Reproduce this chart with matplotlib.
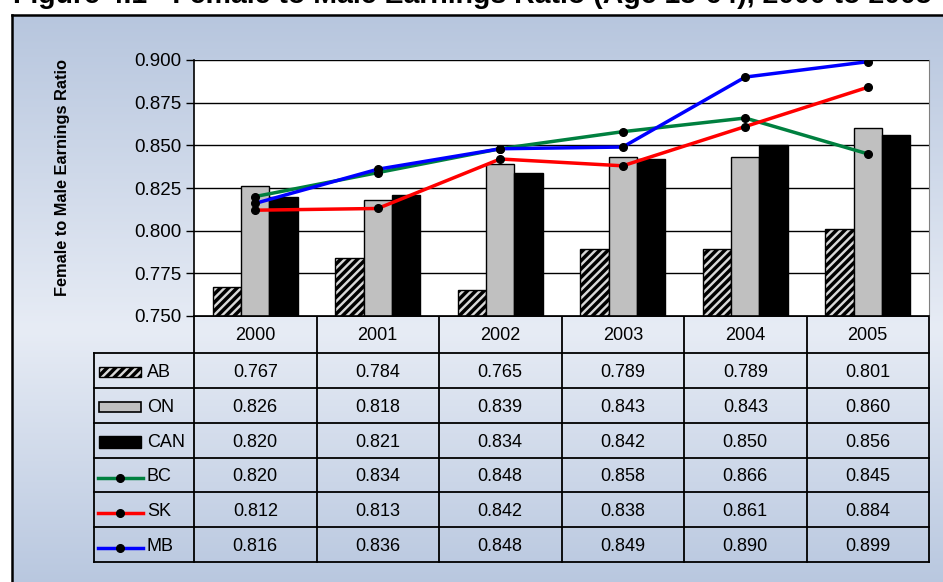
import numpy as np
import matplotlib.pyplot as plt
from matplotlib.patches import Rectangle
from matplotlib.lines import Line2D

plt.rcParams['font.family'] = ['Liberation Sans', 'DejaVu Sans']
plt.rcParams['hatch.linewidth'] = 2.5

years = ['2000', '2001', '2002', '2003', '2004', '2005']
ab = [0.767, 0.784, 0.765, 0.789, 0.789, 0.801]
on = [0.826, 0.818, 0.839, 0.843, 0.843, 0.860]
can = [0.820, 0.821, 0.834, 0.842, 0.850, 0.856]
bc = [0.820, 0.834, 0.848, 0.858, 0.866, 0.845]
sk = [0.812, 0.813, 0.842, 0.838, 0.861, 0.884]
mb = [0.816, 0.836, 0.848, 0.849, 0.890, 0.899]
yticks = [0.750, 0.775, 0.800, 0.825, 0.850, 0.875, 0.900]

W, H = 943, 582
fig = plt.figure(figsize=(W / 100, H / 100), dpi=100)

# overlay axes in pixel coordinates (background, frame, table)
ov = fig.add_axes([0, 0, 1, 1])
ov.set_xlim(0, W)
ov.set_ylim(H, 0)
ov.axis('off')

# vertical gradient: blue at top and bottom, pale in the middle
ys = np.linspace(0, 1, 300)
top = np.array([183, 198, 222]) / 255
mid = np.array([231, 236, 245]) / 255
bot = np.array([184, 199, 223]) / 255
t = np.clip(ys / 0.55, 0, 1)[:, None]
u = np.clip((ys - 0.55) / 0.45, 0, 1)[:, None]
grad = np.where(ys[:, None] < 0.55, top + (mid - top) * t, mid + (bot - mid) * u)
ov.imshow(grad[:, None, :], extent=(12, W + 5, H + 5, 15), aspect='auto', zorder=0)
ov.plot([12, 12], [15, H + 5], color='black', lw=1.8, zorder=1)
ov.plot([12, W + 5], [15, 15], color='black', lw=1.8, zorder=1)

# title, mostly cut off by the top edge as in the source
fig.text(13 / W, 1 - 3 / H, 'Figure 4.1 - Female to Male Earnings Ratio (Age 15-64), 2000 to 2005',
         fontsize=20.5, fontweight='bold', va='baseline', ha='left')

# main chart axes
x0, x1, y0, y1 = 194, 929, 60, 316
ax = fig.add_axes([x0 / W, 1 - y1 / H, (x1 - x0) / W, (y1 - y0) / H])
ax.set_facecolor('white')
x = np.arange(len(years))
bw = 0.23
ax.bar(x - bw, ab, bw, color='#d8d8d8', edgecolor='black', hatch='////', lw=1, zorder=2)
ax.bar(x, on, bw, color='#c0c0c0', edgecolor='black', lw=1, zorder=2)
ax.bar(x + bw, can, bw, color='black', edgecolor='black', lw=1, zorder=2)

line_series = [('BC', bc, '#00803f'), ('SK', sk, '#ff0000'), ('MB', mb, '#0000ff')]
for name, vals, c in line_series:
    ax.plot(x, vals, color=c, lw=2.5, marker='o', ms=5.5, mfc='black', mec='black', zorder=3)

ax.set_xlim(-0.5, len(years) - 0.5)
ax.set_ylim(0.75, 0.90)
ax.set_yticks(yticks)
ax.set_yticklabels([f'{v:.3f}' for v in yticks], fontsize=13.5)
ax.set_xticks([])
ax.tick_params(axis='y', direction='out', length=6, width=1, pad=3)
ax.grid(axis='y', color='black', lw=1, zorder=1)
ax.set_axisbelow(True)
ax.spines['top'].set_visible(False)
ax.spines['right'].set_color('#808080')
ax.spines['left'].set_linewidth(1.2)
ax.spines['bottom'].set_linewidth(1.2)
fig.text(62 / W, 1 - 178 / H, 'Female to Male Earnings Ratio', rotation=90,
         fontsize=11.8, fontweight='bold', ha='center', va='center')

# data table below the chart
col_w = (x1 - x0) / len(years)
col_edges = [x0 + i * col_w for i in range(len(years) + 1)]
tab_left = 94
hdr_bot = 353
tab_bot = 562
row_h = (tab_bot - hdr_bot) / 6
row_edges = [hdr_bot + i * row_h for i in range(7)]
lw_t = 1.3

ov.plot([x0, x1], [y1, y1], color='black', lw=lw_t, zorder=2)
for ry in row_edges:
    ov.plot([tab_left, x1], [ry, ry], color='black', lw=lw_t, zorder=2)
ov.plot([tab_left, tab_left], [hdr_bot, tab_bot], color='black', lw=lw_t, zorder=2)
for cx in col_edges:
    ov.plot([cx, cx], [y1, tab_bot], color='black', lw=lw_t, zorder=2)

for i, yr in enumerate(years):
    ov.text(col_edges[i] + col_w / 2, (y1 + hdr_bot) / 2 + 1.5, yr, fontsize=13,
            ha='center', va='center', zorder=3)

rows = [('AB', ab), ('ON', on), ('CAN', can), ('BC', bc), ('SK', sk), ('MB', mb)]
for r, (name, vals) in enumerate(rows):
    cy = (row_edges[r] + row_edges[r + 1]) / 2 + 2
    for i, v in enumerate(vals):
        ov.text(col_edges[i] + col_w / 2, cy, f'{v:.3f}', fontsize=13,
                ha='center', va='center', zorder=3)
    ov.text(147, cy, name, fontsize=13, ha='left', va='center', zorder=3)
    if name == 'AB':
        ov.add_patch(Rectangle((99, cy - 5), 42, 10, facecolor='#d8d8d8', edgecolor='black',
                               hatch='////', lw=1, zorder=3))
    elif name == 'ON':
        ov.add_patch(Rectangle((99, cy - 5), 42, 10, facecolor='#c0c0c0', edgecolor='black',
                               lw=1.2, zorder=3))
    elif name == 'CAN':
        ov.add_patch(Rectangle((99, cy - 6), 42, 12, facecolor='black', edgecolor='black',
                               lw=1, zorder=3))
    else:
        c = dict((n, col) for n, _, col in line_series)[name]
        ov.add_line(Line2D([98, 143], [cy + 1, cy + 1], color=c, lw=2.5, zorder=3))
        ov.plot([120], [cy + 1], 'o', color='black', ms=5.5, zorder=4)

fig.savefig('out.png', dpi=100)
